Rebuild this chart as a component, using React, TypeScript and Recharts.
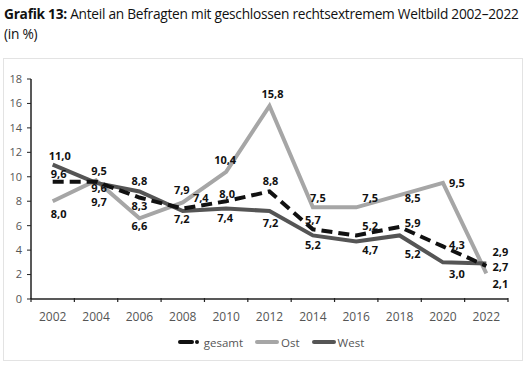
import React, { useEffect } from 'react';
import { LineChart, Line, XAxis, YAxis, Legend, LabelList } from 'recharts';

const years = ['2002', '2004', '2006', '2008', '2010', '2012', '2014', '2016', '2018', '2020', '2022'];
const gesamt = [9.6, 9.6, 8.3, 7.4, 8.0, 8.8, 5.7, 5.2, 5.9, 4.3, 2.7];
const ost = [8.0, 9.7, 6.6, 7.9, 10.4, 15.8, 7.5, 7.5, 8.5, 9.5, 2.1];
const west = [11.0, 9.5, 8.8, 7.2, 7.4, 7.2, 5.2, 4.7, 5.2, 3.0, 2.9];
const yTicks = [0, 2, 4, 6, 8, 10, 12, 14, 16, 18];

// label nudges (dx, dy) so the value labels don't collide
const gesamtLabelPos = [[6, -8], [3, 6], [0, 8], [18, -11], [1, -8], [1, -11], [0, -10], [14, -10], [13, -4], [14, -2], [14, 0]];
const ostLabelPos = [[6, 12], [3, 21], [0, 7], [-1, -13], [-1, -12], [3, -12], [5, -10], [14, -10], [13, 2], [14, 0], [14, 10]];
const westLabelPos = [[7, -9], [3, -12], [0, -11], [-1, 7], [-1, 9], [1, 11], [0, 9], [14, 8], [13, 18], [14, 11], [14, -12]];

const data = years.map((year, i) => ({ year, gesamt: gesamt[i], ost: ost[i], west: west[i] }));

const FONT = '"Open Sans", sans-serif';
const PLOT_LEFT = 31;
const PLOT_RIGHT = 508;
const HALF_STEP = (PLOT_RIGHT - PLOT_LEFT) / years.length / 2;

const fmt = (v: number) => v.toFixed(1).replace('.', ',');

const makeLabel = (pos: number[][]) => (props: any) => {
  const { x, y, value, index } = props;
  const [dx, dy] = pos[index] || [0, -10];
  return (
    <text
      x={x + dx}
      y={y + dy}
      textAnchor="middle"
      dominantBaseline="central"
      fontFamily={FONT}
      fontWeight={700}
      fontSize={11}
      fill="#111"
    >
      {fmt(value)}
    </text>
  );
};

const XTick = (props: any) => {
  const { x, y, payload, index } = props;
  return (
    <g>
      <line x1={x - HALF_STEP} x2={x - HALF_STEP} y1={y - 9} y2={y - 5} stroke="#222" strokeWidth={1.2} />
      {index === years.length - 1 && (
        <line x1={x + HALF_STEP} x2={x + HALF_STEP} y1={y - 9} y2={y - 5} stroke="#222" strokeWidth={1.2} />
      )}
      <text x={x} y={y + 9} textAnchor="middle" dominantBaseline="central" fontFamily={FONT} fontSize={12} fill="#555">
        {payload.value}
      </text>
    </g>
  );
};

const legendItems = [
  { name: 'gesamt', color: '#111', dash: true },
  { name: 'Ost', color: '#a6a6a6', dash: false },
  { name: 'West', color: '#555', dash: false },
];

const renderLegend = () => (
  <div style={{ display: 'flex', justifyContent: 'center', alignItems: 'center', height: 20, paddingLeft: 46, fontFamily: FONT, fontSize: 11.5, color: '#555' }}>
    {legendItems.map((it) => (
      <div key={it.name} style={{ display: 'flex', alignItems: 'center', marginRight: 12 }}>
        <svg width={24} height={10} style={{ marginRight: 2 }}>
          {it.dash ? (
            <>
              <line x1={2} x2={14} y1={5} y2={5} stroke={it.color} strokeWidth={4} strokeLinecap="round" />
              <circle cx={19} cy={5} r={2} fill={it.color} />
            </>
          ) : (
            <line x1={2} x2={22} y1={5} y2={5} stroke={it.color} strokeWidth={4} strokeLinecap="round" />
          )}
        </svg>
        <span>{it.name}</span>
      </div>
    ))}
  </div>
);

export default function App() {
  useEffect(() => {
    document.body.style.margin = '0';
  }, []);

  return (
    <div style={{ position: 'relative', width: 528, height: 369, background: '#fff', overflow: 'hidden' }}>
      <div
        style={{
          position: 'absolute',
          left: 4,
          top: 3,
          fontFamily: FONT,
          fontSize: 15,
          lineHeight: '20px',
          color: '#111',
          letterSpacing: -0.3,
          whiteSpace: 'nowrap',
          transform: 'scaleX(0.915)',
          transformOrigin: 'left top',
        }}
      >
        <b>Grafik 13:</b> Anteil an Befragten mit geschlossen rechtsextremem Weltbild 2002–2022
        <br />
        (in %)
      </div>
      <div style={{ position: 'absolute', left: 3, top: 58, width: 518, height: 301, border: '1.5px solid #e3e3e3' }} />
      <div style={{ position: 'absolute', left: 0, top: 0 }}>
        <LineChart width={528} height={369} data={data} margin={{ top: 79, right: 20, bottom: 17, left: 0 }}>
          <XAxis
            dataKey="year"
            height={33}
            padding={{ left: HALF_STEP, right: HALF_STEP }}
            axisLine={{ stroke: '#222', strokeWidth: 1.5 }}
            tickLine={false}
            tick={<XTick />}
            interval={0}
          />
          <YAxis
            width={31}
            domain={[0, 18]}
            ticks={yTicks}
            axisLine={{ stroke: '#222', strokeWidth: 1.5 }}
            tickLine={{ stroke: '#222' }}
            tickSize={4}
            tickMargin={5}
            tick={{ fontFamily: FONT, fontSize: 11, fill: '#555' }}
          />
          <Legend verticalAlign="bottom" content={renderLegend} />
          <Line dataKey="ost" name="Ost" stroke="#a6a6a6" strokeWidth={4} dot={false} isAnimationActive={false} strokeLinejoin="miter">
            <LabelList dataKey="ost" content={makeLabel(ostLabelPos)} />
          </Line>
          <Line dataKey="west" name="West" stroke="#555" strokeWidth={4} dot={false} isAnimationActive={false} strokeLinejoin="miter">
            <LabelList dataKey="west" content={makeLabel(westLabelPos)} />
          </Line>
          <Line dataKey="gesamt" name="gesamt" stroke="#111" strokeWidth={4} strokeDasharray="11 6" dot={false} isAnimationActive={false}>
            <LabelList dataKey="gesamt" content={makeLabel(gesamtLabelPos)} />
          </Line>
        </LineChart>
      </div>
    </div>
  );
}
